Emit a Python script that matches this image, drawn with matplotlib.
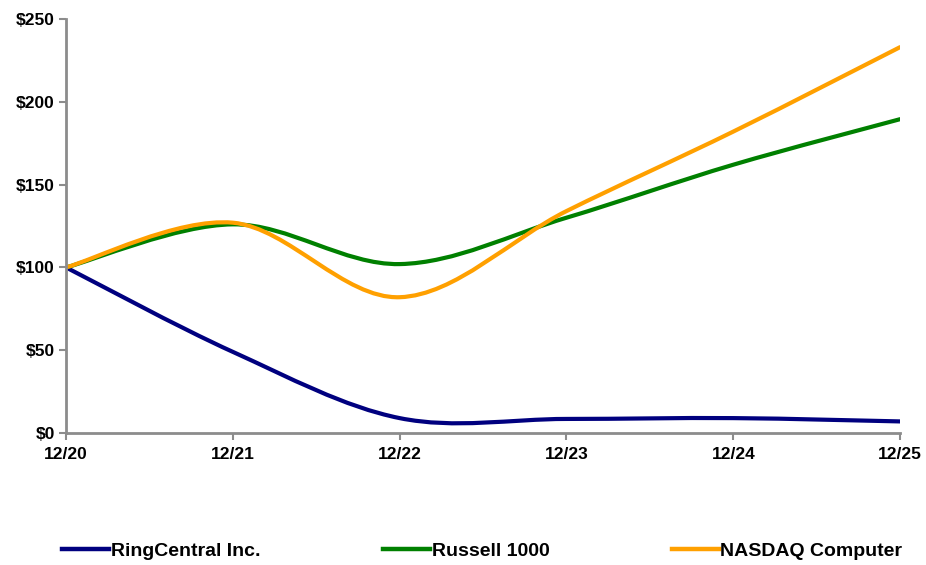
import numpy as np
import matplotlib
matplotlib.use("Agg")
import matplotlib.pyplot as plt
from matplotlib.path import Path
from matplotlib.patches import PathPatch
from matplotlib.lines import Line2D

# data
years = ["12/20", "12/21", "12/22", "12/23", "12/24", "12/25"]
ringcentral = [100, 49, 9, 8.5, 9, 7]
russell = [100, 126, 102, 130, 162, 189.5]
nasdaq = [100, 127, 82, 134, 182, 233]

names = ["RingCentral Inc.", "Russell 1000", "NASDAQ Computer"]
colors = ["#00007F", "#008000", "#FFA000"]

plt.rcParams["font.family"] = ["Liberation Sans", "DejaVu Sans"]
plt.rcParams["font.weight"] = "bold"


def smooth_path(x, y):
    # excel-like smoothed line: bezier segments through the points
    x = np.asarray(x, float)
    y = np.asarray(y, float)
    pts = np.column_stack([x, y])
    verts = [pts[0]]
    codes = [Path.MOVETO]
    n = len(pts)
    for i in range(n - 1):
        p0 = pts[i - 1] if i > 0 else pts[i]
        p1 = pts[i]
        p2 = pts[i + 1]
        p3 = pts[i + 2] if i + 2 < n else pts[i + 1]
        c1 = p1 + (p2 - p0) / 6.0
        c2 = p2 - (p3 - p1) / 6.0
        verts += [c1, c2, p2]
        codes += [Path.CURVE4] * 3
    return Path(verts, codes)


fig = plt.figure(figsize=(9.26, 5.65), dpi=100)
ax = fig.add_axes([0.0713, 0.2336, 0.9007, 0.7328])

x = np.arange(len(years))
for vals, c in zip([ringcentral, russell, nasdaq], colors):
    patch = PathPatch(smooth_path(x, vals), facecolor="none", edgecolor=c,
                      lw=3, capstyle="round", joinstyle="round")
    ax.add_patch(patch)

ax.set_xlim(0, len(years) - 1)
ax.set_ylim(0, 250)
ax.set_xticks(x)
ax.set_xticklabels(years)
ax.set_yticks(range(0, 251, 50))
ax.set_yticklabels(["$%d" % v for v in range(0, 251, 50)])

for s in ["top", "right"]:
    ax.spines[s].set_visible(False)
for s in ["left", "bottom"]:
    ax.spines[s].set_color("#8C8C8C")
    ax.spines[s].set_linewidth(2)
ax.tick_params(axis="both", colors="#8C8C8C", width=1.5, length=5,
               labelcolor="black", labelsize=12.5)
ax.tick_params(axis="x", pad=5)
ax.tick_params(axis="y", pad=3)

handles = [Line2D([], [], color=c, lw=3.2) for c in colors]
fig.legend(handles, names, loc="center", bbox_to_anchor=(0.521, 1 - 551 / 565),
           ncol=3, frameon=False, handlelength=2.4, handletextpad=0.1,
           columnspacing=6.3, prop={"size": 14, "weight": "bold"})

fig.savefig("out.png", dpi=100)
